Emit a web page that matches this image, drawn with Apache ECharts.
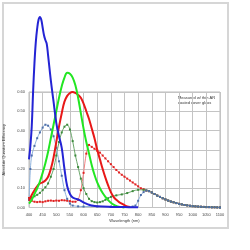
<!DOCTYPE html>
<html><head><meta charset="utf-8">
<script src="https://cdn.jsdelivr.net/npm/echarts@6/dist/echarts.min.js"></script>
<style>html,body{margin:0;padding:0;background:#fff}#c{width:250px;height:250px}</style>
</head><body><div id="c"></div>
<script>
// Solid curves
const blueNm = [400,405,410,415,420,425,430,435,440,445,450,455,460,465,470,480,490,500,510,520,530,540,550,560,570,580,590,600,610,620,630,650,700,750,800];
const blueQE = [0.25,0.32,0.42,0.6,0.75,0.86,0.93,0.975,0.99,0.975,0.935,0.895,0.87,0.85,0.79,0.66,0.55,0.44,0.37,0.31,0.2,0.11,0.07,0.052,0.046,0.042,0.035,0.027,0.02,0.014,0.01,0.006,0.003,0.002,0.001];
const greenNm = [400,410,420,430,440,450,460,470,480,490,500,510,520,530,540,550,560,570,580,590,600,610,620,630,640,650,660,670,680,690,700,710,720,730,740,750];
const greenQE = [0.02,0.04,0.07,0.1,0.135,0.18,0.23,0.29,0.36,0.43,0.5,0.57,0.63,0.675,0.7,0.695,0.675,0.635,0.57,0.49,0.41,0.34,0.28,0.22,0.17,0.13,0.1,0.075,0.055,0.038,0.025,0.015,0.008,0.004,0.002,0];
const redNm = [400,410,420,430,440,450,460,470,480,490,500,510,520,530,540,550,560,570,580,590,600,610,620,630,640,650,660,670,680,690,700,710,720,730,740,750,760,770];
const redQE = [0.035,0.065,0.09,0.11,0.125,0.13,0.14,0.16,0.2,0.26,0.34,0.42,0.49,0.55,0.58,0.595,0.6,0.595,0.585,0.57,0.54,0.5,0.46,0.41,0.36,0.3,0.25,0.2,0.155,0.115,0.08,0.055,0.04,0.028,0.02,0.012,0.005,0.002];
// Marker curves
const tailNm = [840,850,860,870,880,890,900,910,920,930,940,950,960,970,980,990,1000,1010,1020,1030,1040,1050,1060,1070,1080,1090,1100];
const tailQE = [0.085,0.078,0.07,0.062,0.055,0.048,0.042,0.036,0.031,0.027,0.023,0.019,0.016,0.013,0.011,0.009,0.007,0.006,0.005,0.004,0.003,0.002,0.002,0.001,0.001,0.0005,0];
const ltBlueNm = [400,405,410,420,430,440,450,460,470,480,490,500,510,520,530,540,550,560,580,600,650,700,750,780,790,800,810,820,830];
const ltBlueQE = [0.04,0.2,0.27,0.32,0.36,0.39,0.415,0.43,0.425,0.405,0.37,0.31,0.24,0.165,0.09,0.045,0.02,0.01,0.006,0.005,0.005,0.005,0.005,0.005,0.01,0.035,0.065,0.08,0.088];
const dkGreenNm = [400,410,420,430,440,450,460,470,480,490,500,510,520,530,540,550,560,570,580,590,600,610,620,630,640,650,660,670,680,690,700,720,740,760,780,800,820,830];
const dkGreenQE = [0.04,0.05,0.058,0.066,0.076,0.09,0.105,0.125,0.16,0.2,0.27,0.34,0.39,0.42,0.43,0.405,0.345,0.27,0.21,0.15,0.1,0.07,0.045,0.033,0.028,0.026,0.028,0.032,0.04,0.048,0.055,0.063,0.068,0.075,0.085,0.092,0.092,0.089];
const dkRedNm = [400,410,420,430,440,450,460,470,480,490,500,510,520,530,540,550,560,570,580,590,600,610,620,630,640,650,660,670,680,690,700,710,720,730,740,750,760,770,780,790,800,810,820,830];
const dkRedQE = [0.05,0.035,0.03,0.028,0.03,0.028,0.032,0.035,0.036,0.034,0.036,0.035,0.038,0.037,0.035,0.033,0.03,0.03,0.04,0.09,0.18,0.28,0.325,0.315,0.305,0.295,0.285,0.27,0.255,0.24,0.225,0.21,0.195,0.182,0.17,0.16,0.15,0.14,0.13,0.12,0.11,0.1,0.095,0.088];
const yTicks = ['0.00','0.10','0.20','0.30','0.40','0.50','0.60'];

function pairs(xs, ys){ return xs.map((x,i)=>[x,ys[i]]); }
function withTail(xs, ys){ return pairs(xs.concat(tailNm), ys.concat(tailQE)); }

const chart = echarts.init(document.getElementById('c'), null, {renderer:'canvas'});
const solid = (name, data, color) => ({name, type:'line', data, smooth:0.4, symbol:'none', clip:false,
  lineStyle:{color, width:2}, z:3});
const marked = (name, data, lc, mc) => ({name, type:'line', data, smooth:0.3, symbol:'rect', symbolSize:2, clip:false,
  lineStyle:{color:lc, width:1}, itemStyle:{color:mc}, z:2});
chart.setOption({
  animation:false,
  backgroundColor:'#fff',
  graphic:[
    {type:'rect', shape:{x:3,y:3,width:225,height:225}, style:{fill:'none', stroke:'#d6d6d6', lineWidth:2}, z:-1},
    {type:'text', left:178, top:95, style:{text:'Measured w/ thin AR\ncoated cover glass', fontSize:4, lineHeight:5, fill:'#333', fontFamily:'Liberation Sans'}}
  ],
  grid:{left:29, right:30, top:92, bottom:42.5, show:true, borderColor:'#bbb', borderWidth:1, containLabel:false, outerBoundsMode:'none'},
  xAxis:{type:'value', min:400, max:1100, interval:50,
    name:'Wavelength (nm)', nameLocation:'middle', nameGap:11, nameTextStyle:{fontSize:4, color:'#333', fontFamily:'Liberation Sans'},
    axisLine:{show:false}, axisTick:{show:false},
    axisLabel:{fontSize:4, color:'#444', margin:5, fontFamily:'Liberation Sans', formatter:(v)=>String(v)},
    splitLine:{show:true, lineStyle:{color:'#c4c4c4', width:1}}},
  yAxis:{type:'value', min:0, max:0.6, interval:0.1,
    name:'Absolute Quantum Efficiency', nameLocation:'middle', nameGap:16, nameRotate:90, nameTextStyle:{fontSize:4, color:'#333', fontFamily:'Liberation Sans'},
    axisLine:{show:false}, axisTick:{show:false},
    axisLabel:{fontSize:4, color:'#444', margin:4, fontFamily:'Liberation Sans', formatter:(v)=>yTicks[Math.round(v*10)]},
    splitLine:{show:true, lineStyle:{color:'#c4c4c4', width:1}}},
  series:[
    marked('Red (markers)', withTail(dkRedNm, dkRedQE), '#f08080', '#e02020'),
    marked('Green (markers)', withTail(dkGreenNm, dkGreenQE), '#6aa66a', '#3c8a3c'),
    marked('Blue (markers)', withTail(ltBlueNm, ltBlueQE), '#8fb3dd', '#4f6fa8'),
    solid('Red', pairs(redNm, redQE), '#e81818'),
    solid('Green', pairs(greenNm, greenQE), '#22e622'),
    solid('Blue', pairs(blueNm, blueQE), '#2424d4')
  ]
});
</script></body></html>
